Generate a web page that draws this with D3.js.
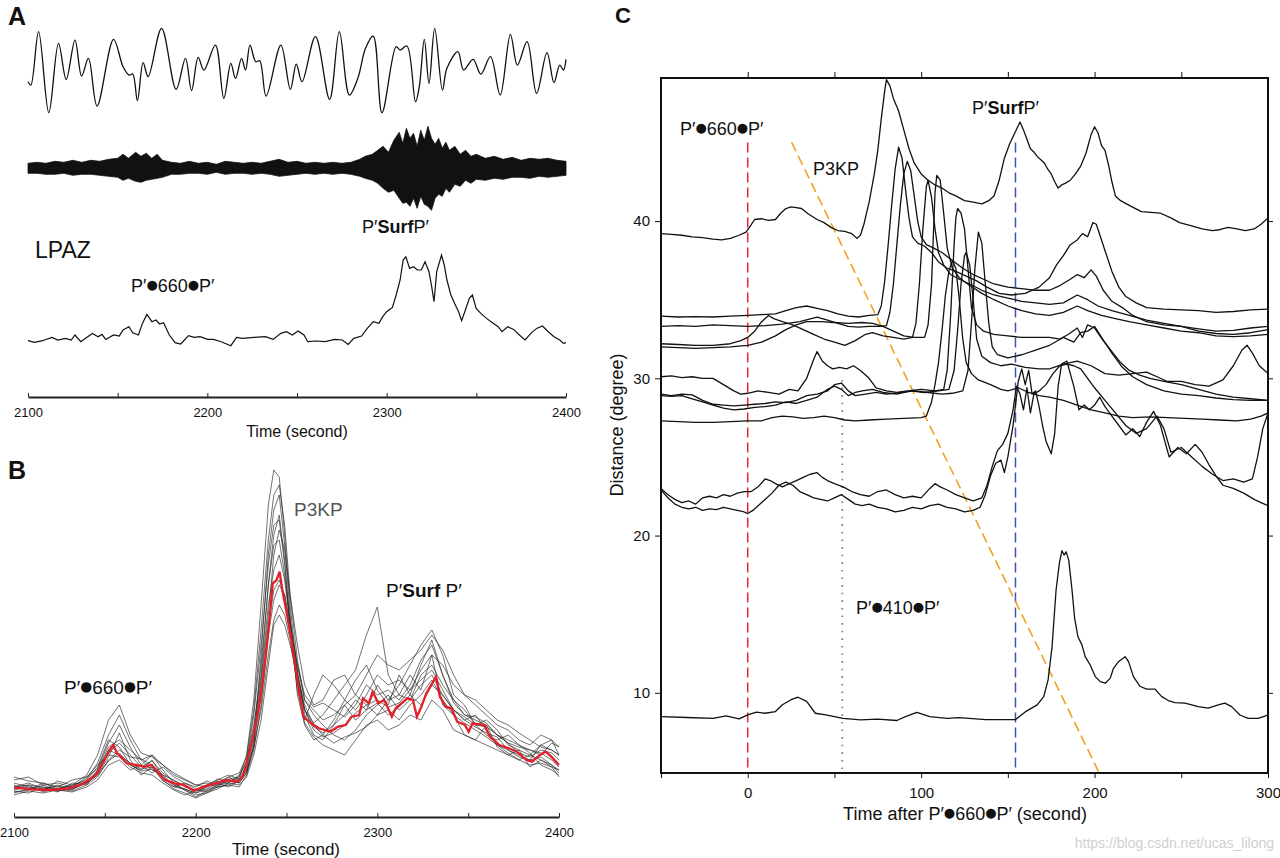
<!DOCTYPE html>
<html><head><meta charset="utf-8">
<script src="https://cdn.jsdelivr.net/npm/d3@7"></script>
<style>body{margin:0;background:#fff} text{font-family:"Liberation Sans",Arial,Helvetica,sans-serif;fill:#111}</style>
</head><body><svg id="c" width="1280" height="858"></svg>
<script>
// ---------------- DATA ----------------
// Panel A: long-period trace (time, amplitude) at extrema
const lpTrace = [[2100,-30],[2101.6,-40],[2105.9,120],[2111.6,-123],[2117,85],[2121.3,-23],[2126.2,95],[2129.9,-13],[2133.7,40],[2138.5,-103],[2147.7,97],[2153,15],[2156.3,-10],[2158.4,-7],[2161,-87],[2164.2,27],[2167,-15],[2174.5,130],[2182.6,-53],[2187.8,40],[2191.2,-57],[2194.9,43],[2198.1,5],[2204.5,80],[2209.2,-80],[2213.1,25],[2215.7,-20],[2219.1,40],[2221.3,5],[2223.8,80],[2227,30],[2229.2,33],[2232.8,-73],[2241,80],[2246.3,-53],[2249.6,23],[2252.8,-30],[2260.3,105],[2268.2,-83],[2273.6,120],[2279.2,-70],[2283.9,-20],[2288.2,70],[2292.5,107],[2297.4,-123],[2305.3,75],[2307.5,65],[2311.3,77],[2316.1,-90],[2318.2,-45],[2321,97],[2323.6,-35],[2326.8,130],[2331.1,-55],[2333.6,10],[2339.7,60],[2342.9,5],[2348.2,37],[2352.5,-7],[2357.9,45],[2363.3,-70],[2369,112],[2372.9,20],[2378.3,90],[2383.6,-65],[2389.4,57],[2393.3,-33],[2396.5,20],[2398.6,5],[2400,37]];
// Panel A: high-frequency trace envelope
const hfTimes = [2100,2105,2110,2115,2120,2125,2130,2135,2140,2145,2150,2153,2156,2160,2163,2166,2169,2172,2175,2180,2185,2190,2195,2200,2205,2210,2215,2220,2225,2230,2235,2240,2245,2250,2255,2260,2265,2270,2275,2280,2285,2288,2292,2295,2298,2301,2304,2307,2309,2311,2313,2315,2317,2319,2321,2323,2325,2327,2329,2331,2333,2335,2338,2341,2344,2347,2350,2355,2360,2365,2370,2375,2380,2385,2390,2395,2400];
const hfUpper = [5,6,5,7,6,8,6,8,7,9,10,14,10,16,12,15,10,14,8,6,5,7,5,6,4,7,6,5,6,5,7,9,6,7,5,6,5,6,5,6,9,12,14,18,22,16,28,36,25,40,30,35,22,38,28,42,30,24,30,20,26,18,22,14,18,12,14,10,12,9,11,8,10,9,10,8,7];
const hfLower = [-5,-5,-6,-6,-5,-7,-6,-6,-7,-8,-9,-12,-10,-13,-14,-12,-11,-10,-9,-6,-6,-5,-5,-6,-4,-6,-5,-5,-6,-5,-6,-8,-7,-6,-5,-6,-5,-6,-5,-6,-8,-10,-12,-15,-20,-24,-22,-30,-35,-34,-38,-30,-40,-28,-36,-38,-42,-30,-26,-28,-20,-24,-16,-18,-12,-15,-11,-12,-10,-11,-9,-9,-10,-8,-9,-8,-7];
// Panel A: LPAZ envelope
const lpazTrace = [[2100,1],[2103.7,-0.7],[2108,1],[2113.4,4.3],[2116.6,1.7],[2120.9,3.3],[2124.1,1.7],[2126.2,6.7],[2129.4,0],[2132.7,4.3],[2135.9,8.3],[2139.1,5],[2141.2,7.3],[2143.4,2.3],[2147.7,6.7],[2150.9,5.7],[2153,11.7],[2156.3,15],[2158.4,9],[2161.6,6.7],[2163.8,18.3],[2166.3,27.3],[2169.1,20],[2171.3,21.7],[2173.4,17.7],[2175.6,19],[2178.8,6.7],[2182,-1],[2185.2,-2.3],[2189.5,6],[2192.7,4.3],[2195.9,5],[2200.2,2.3],[2203.4,2.3],[2207.7,0],[2213.1,-4],[2216.3,4.3],[2219.5,3.3],[2226,4.3],[2232.4,5],[2236.7,2.3],[2241,8.3],[2244.2,10],[2247.4,6.7],[2250.6,10.7],[2253.9,6.7],[2256,0],[2260.3,0.7],[2265.7,0],[2271,2.3],[2275.3,1.7],[2278.5,-2.7],[2281.7,3.3],[2286,5.7],[2289.2,13.3],[2292.5,20],[2295.7,18.3],[2297.8,25],[2300,30],[2303.2,34.3],[2305.3,46.7],[2307.5,61.7],[2309.2,81.7],[2310.7,85],[2312.8,73.3],[2315,75],[2317.1,71.7],[2319.3,71.7],[2321.4,80],[2323.6,70],[2325.1,55],[2326.4,40],[2327.9,70],[2330.6,86.7],[2332.1,76.7],[2333.6,61.7],[2335.8,46.7],[2337.9,38.3],[2340.1,30],[2341.8,21],[2343.9,31.7],[2346.1,43.3],[2347.8,46.7],[2349.9,33.3],[2352.5,28.3],[2355.7,23.3],[2359,19],[2362.2,15],[2364.3,10],[2367.5,15],[2370.8,12.3],[2374,6.7],[2377.2,1.7],[2380.4,8.3],[2383.6,13.3],[2386.9,15.7],[2390.1,10],[2393.3,5],[2396.5,1.7],[2398.6,-1.7],[2400,-1]];
const axisTicksAB = [2100,2200,2300,2400];
const minorTicksAB = [2150,2250,2350];

// Panel B: stacked envelopes on a common time grid, and their mean (red)
const bTimes = [2100,2108,2116,2124,2132,2140,2146,2152,2158,2164,2170,2176,2182,2188,2194,2200,2206,2212,2218,2224,2228,2232,2236,2240,2243,2246,2249,2252,2256,2260,2265,2270,2276,2282,2288,2294,2300,2306,2312,2318,2324,2330,2336,2342,2348,2354,2360,2366,2372,2378,2384,2390,2396,2400];
const bTraces = [
 [8,12,6,9,5,15,28,55,48,30,25,35,18,10,6,2,8,14,12,18,40,95,190,290,325,318,260,190,120,80,60,55,70,90,75,85,110,95,100,120,105,140,90,80,60,55,70,48,40,45,28,35,30,22],
 [3,5,10,4,8,12,20,38,62,35,20,28,14,8,12,6,3,10,18,12,22,50,140,240,285,300,250,180,100,70,55,60,75,95,115,130,105,90,120,100,130,155,120,95,85,70,60,55,60,50,45,40,52,48],
 [12,8,4,14,10,20,40,75,90,60,42,38,30,20,15,10,12,8,16,18,35,70,120,210,260,280,235,170,115,85,72,80,95,110,125,160,188,120,100,95,110,120,100,85,75,80,65,50,45,38,35,50,45,40],
 [0,4,2,5,3,8,15,30,35,25,30,40,25,12,5,-2,4,8,10,8,20,45,90,160,195,210,200,170,130,95,80,70,60,55,65,80,90,100,85,95,120,130,110,95,80,75,70,60,55,50,42,30,25,20],
 [6,10,8,3,12,10,25,48,55,45,35,25,20,15,8,5,10,15,20,16,25,55,110,180,240,265,245,200,150,110,90,95,115,120,100,90,80,95,110,130,150,165,140,100,90,70,75,65,50,45,40,35,28,25],
 [15,18,10,12,8,18,30,40,38,28,22,20,12,5,0,4,6,12,8,14,24,48,85,140,175,190,180,155,110,72,58,50,45,40,55,70,75,65,70,80,75,95,85,65,60,55,50,45,40,35,30,32,28,18],
 [10,5,12,8,15,18,26,52,70,48,30,22,28,18,12,8,14,10,12,20,32,80,150,230,270,275,230,165,105,75,100,120,110,95,85,100,120,110,115,105,125,140,130,110,100,95,85,75,70,62,55,48,45,40],
 [4,2,8,6,4,10,18,35,45,38,36,30,20,10,5,0,2,6,12,10,18,40,75,130,170,180,170,150,120,90,70,60,52,58,62,68,80,85,75,90,100,115,95,80,72,65,58,50,42,35,40,50,55,40],
 [2,6,5,10,6,12,22,42,52,40,28,34,22,14,10,4,8,16,14,12,28,65,130,210,250,255,220,175,130,100,88,92,85,78,90,110,100,105,95,110,135,150,120,92,80,78,72,60,52,48,45,42,35,28],
 [18,14,12,6,10,14,24,45,40,32,26,28,15,6,2,-3,2,8,10,14,22,50,100,170,205,215,200,165,125,85,68,62,70,80,95,85,92,80,88,100,90,110,100,85,75,68,62,58,45,40,35,38,30,25],
 [8,10,3,7,9,16,32,60,80,55,35,40,30,22,16,10,8,12,18,22,38,85,165,255,300,310,270,200,135,95,85,75,80,90,100,120,140,130,125,135,145,160,145,120,100,90,80,70,65,55,50,60,55,48],
 [5,8,6,4,6,12,20,34,42,30,24,26,18,8,6,2,5,10,14,16,30,60,115,190,225,240,215,170,120,85,65,58,62,70,82,90,95,88,92,105,115,125,105,85,78,70,68,60,52,42,38,45,42,35]
];
const bMean = [[2100,7.7],[2109.1,5.7],[2119.7,5],[2130.3,6.7],[2138.7,11.7],[2145.1,20],[2149.3,33.3],[2152.5,45],[2154.6,50],[2156.7,41.7],[2158.8,38.3],[2162,31.7],[2167.3,30],[2171.5,28.3],[2175.8,30],[2178.9,23.3],[2183.2,15],[2188.4,11.7],[2193.7,10],[2199,4.3],[2204.3,8.3],[2210.7,11.7],[2217,15],[2222.3,13.3],[2225.5,16.7],[2227.6,28.3],[2230.8,51.7],[2233.9,78.3],[2237.1,115],[2240.3,168.3],[2242.4,211.7],[2244.5,215],[2246.2,223.3],[2247.7,205],[2249.8,185],[2253,151.7],[2256.2,111.7],[2259.3,78.3],[2263.6,71.7],[2267.8,66.7],[2274.1,63.3],[2278.4,68.3],[2282.6,70],[2285.8,78.3],[2290,80],[2292.1,96.7],[2295.3,91.7],[2297.4,103.3],[2300.6,91.7],[2303.8,95],[2308,78.3],[2310.1,86.7],[2313.3,91.7],[2316.5,96.7],[2319.6,95],[2321.8,78.3],[2323.9,86.7],[2327,101.7],[2330.2,111.7],[2332.3,118.3],[2334.4,98.3],[2337.6,88.3],[2340.8,86.7],[2344,73.3],[2348.2,70],[2350.3,63.3],[2352.4,71.7],[2358.8,70],[2362,58.3],[2367.2,50],[2372.5,46.7],[2376.8,43.3],[2382.1,35],[2385.2,33.3],[2389.5,40],[2392.6,43.3],[2395.8,38.3],[2400,30]];

// Panel C: record section, each trace as [time after P'660P' (s), distance (deg)]
const cTrace39 = [[-50,39.2],[-44,39.15],[-38,39.1],[-32,39.0],[-26,38.95],[-20,38.85],[-15,38.8],[-10,38.9],[-5,39.1],[-1,39.3],[1,39.6],[4,40.1],[8,40.15],[12,40.05],[16,40.1],[19,40.5],[22,40.8],[25,40.9],[28,40.85],[31,40.8],[35,40.45],[40,40.1],[44,39.9],[48,39.6],[52,39.4],[56,39.35],[60,39.2],[63,38.9],[65,39.1],[67,39.8],[70,41.2],[73,43],[75,44.5],[77,46.5],[79,48.3],[80,49.0],[82,48.6],[84,47.8],[87,47.0],[90,45.8],[93,44.6],[96,43.7],[100,43.0],[104,42.6],[108,42.3],[112,42.1],[116,41.8],[120,41.6],[125,41.3],[130,41.2],[135,41.1],[139,41.3],[142,41.6],[145,42.6],[148,44],[151,44.9],[154,45.6],[157,46.3],[159,45.8],[161,45.2],[163,44.6],[165,44.4],[167,44.1],[169,43.9],[171,43.7],[173,43.3],[175,43.0],[177,42.5],[179,42.1],[181,42.3],[183,42.4],[186,42.6],[189,43.0],[192,43.5],[195,44.3],[198,45.5],[200,46.0],[202,45.6],[204,44.8],[206,44.5],[208,43.6],[210,42.5],[212,41.6],[215,41.3],[220,41.0],[227,40.6],[238,40.5],[244,40.2],[249,39.9],[256,39.7],[262,39.5],[268,39.4],[272,39.45],[277,39.6],[282,39.5],[287,39.4],[292,39.5],[296,39.8],[300,40.2]];
const cTrace34a = [[-50,33.95],[-40,33.9],[-30,33.92],[-20,33.9],[-10,33.95],[0,34.0],[8,34.05],[16,34.1],[22,34.3],[28,34.5],[34,34.6],[40,34.45],[46,34.3],[52,34.1],[58,33.95],[64,33.9],[70,34.0],[75,34.05],[77,34.6],[79,36.2],[81,38.5],[83,41.0],[85,43.3],[87,44.7],[89,44.0],[91,42.0],[93,40.2],[95,39.0],[98,38.6],[102,38.4],[106,38.0],[110,37.4],[115,37.0],[120,36.8],[126,36.5],[132,36.2],[138,35.8],[145,35.4],[152,35.3],[160,35.4],[168,35.8],[174,36.4],[178,37.2],[182,37.8],[186,38.5],[190,38.8],[193,39.2],[196,39.0],[199,39.9],[201,39.8],[204,38.8],[207,37.8],[210,36.8],[214,35.8],[218,35.2],[224,34.8],[230,34.5],[240,34.4],[250,34.35],[260,34.3],[270,34.2],[280,34.25],[290,34.35],[300,34.4]];
const cTrace33 = [[-50,33.3],[-40,33.35],[-30,33.3],[-20,33.4],[-10,33.35],[0,33.3],[10,33.35],[20,33.45],[30,33.6],[40,33.9],[46,33.7],[52,33.5],[58,33.3],[64,33.25],[70,33.3],[76,33.3],[80,33.35],[82,34.2],[84,36],[86,38.5],[88,41],[90,43],[92,43.8],[94,43.2],[96,41.6],[98,40],[100,39],[103,38.5],[107,38.3],[112,38.0],[118,37.5],[124,37.0],[130,36.6],[136,36.3],[142,36.0],[150,35.8],[158,35.7],[166,35.6],[174,35.6],[180,35.9],[186,36.3],[190,36.6],[194,36.4],[198,36.9],[201,36.5],[205,35.6],[210,34.9],[216,34.5],[222,34.0],[230,33.6],[240,33.4],[250,33.3],[260,33.15],[270,33.0],[280,33.05],[290,33.2],[300,33.3]];
const cTrace32a = [[-50,32.2],[-40,32.15],[-30,32.1],[-20,32.1],[-10,32.2],[-4,32.4],[0,32.6],[4,33.0],[8,33.6],[12,34.0],[15,33.8],[20,33.6],[26,33.4],[32,33.1],[38,32.8],[44,32.5],[50,32.3],[56,32.1],[62,32.4],[68,32.8],[72,32.9],[78,32.7],[84,32.6],[90,32.5],[95,32.6],[97,33.5],[99,36],[101,39.5],[103,42.2],[104,42.6],[106,41.5],[108,39.5],[110,38],[113,37.2],[117,36.6],[122,36.3],[128,36.0],[135,35.6],[142,35.3],[150,35.1],[158,34.9],[166,34.8],[174,34.7],[182,34.8],[190,35.3],[196,35.0],[202,34.6],[210,34.3],[220,34.0],[230,33.7],[240,33.5],[250,33.3],[260,33.0],[270,32.85],[280,32.8],[290,32.9],[300,33.1]];
const cTrace32b = [[-50,32.0],[-40,31.95],[-30,31.9],[-20,31.95],[-10,32.0],[0,32.1],[8,32.3],[16,32.7],[22,33.1],[28,33.4],[34,33.6],[42,33.6],[50,33.55],[58,33.5],[66,33.55],[72,33.5],[78,33.3],[84,33.0],[90,32.7],[96,32.6],[102,32.6],[104,33.4],[106,36],[107,39],[108,41.8],[109,42.9],[111,42.6],[113,40.5],[115,38.3],[118,37.0],[122,36.4],[128,35.9],[135,35.4],[142,35.0],[150,34.6],[158,34.3],[166,34.1],[174,34.0],[182,34.2],[190,34.6],[196,34.3],[204,34.0],[212,33.8],[220,33.6],[230,33.4],[240,33.2],[250,33.0],[260,32.9],[270,32.7],[280,32.65],[290,32.7],[300,32.8]];
const cTrace30 = [[-50,30.1],[-44,30.15],[-38,30.05],[-32,30.1],[-26,30.0],[-20,30.0],[-14,29.6],[-8,29.2],[-4,29.0],[0,29.05],[6,29.2],[12,29.1],[18,29.0],[24,29.3],[29,29.2],[34,30.0],[38,31.2],[40,31.7],[43,31.1],[46,30.8],[49,30.6],[53,30.7],[57,30.6],[61,30.8],[65,30.5],[70,30.0],[74,29.4],[80,29.2],[86,29.1],[92,29.2],[100,29.3],[108,29.2],[113,29.3],[115,30.5],[117,34],[119,38.5],[120,40.2],[121,40.8],[123,40.5],[125,39.5],[127,37],[129,34.5],[132,33.4],[136,33.0],[142,32.8],[150,32.7],[158,32.6],[166,32.6],[174,32.6],[180,32.5],[185,32.8],[190,33.2],[193,32.6],[196,33.4],[200,33.2],[205,32.4],[210,31.7],[215,31.0],[220,30.5],[226,30.2],[232,30.0],[240,29.8],[250,29.6],[260,29.3],[270,29.0],[280,28.8],[290,28.7],[300,28.6]];
const cTrace29a = [[-50,29.0],[-44,28.9],[-38,29.0],[-32,28.95],[-26,28.6],[-20,28.35],[-14,28.3],[-8,28.25],[-2,28.3],[4,28.35],[10,28.4],[16,28.5],[22,28.45],[28,28.6],[34,28.9],[40,29.0],[46,29.2],[50,29.6],[54,29.7],[58,29.2],[62,28.9],[68,29.0],[74,29.1],[80,29.0],[88,29.1],[96,29.2],[104,29.1],[112,29.0],[118,29.05],[124,29.2],[127,30.5],[129,33.5],[131,37],[133,39.3],[135,38.6],[137,36],[139,33.5],[141,32.0],[144,31.5],[150,31.3],[158,31.5],[166,31.8],[174,32.1],[182,32.6],[188,32.3],[192,32.9],[196,33.0],[200,33.3],[204,32.6],[210,31.6],[216,30.7],[222,30.1],[230,29.6],[240,29.2],[250,29.0],[260,28.9],[270,28.75],[280,28.65],[290,28.6],[300,28.6]];
const cTrace29b = [[-50,28.9],[-44,28.85],[-38,28.9],[-32,28.7],[-26,28.5],[-20,28.3],[-14,28.1],[-8,28.0],[-2,28.05],[4,28.15],[10,28.2],[16,28.3],[22,28.5],[28,28.4],[34,28.6],[40,28.8],[46,29.3],[50,29.5],[54,29.3],[58,28.9],[62,29.1],[66,29.2],[72,29.3],[78,29.1],[86,29.0],[94,29.2],[102,29.1],[110,29.2],[116,29.3],[119,30.5],[121,33],[123,36],[125,37.8],[126,38.0],[128,37.2],[130,35],[132,32.5],[135,31.4],[140,31.0],[146,30.8],[152,30.9],[160,30.7],[168,30.6],[174,30.6],[182,30.9],[190,31.1],[198,30.8],[206,30.3],[214,30.2],[222,30.3],[230,30.4],[236,30.1],[242,29.8],[250,29.8],[258,29.6],[266,29.5],[274,29.9],[280,30.8],[285,31.8],[288,32.1],[291,31.6],[295,30.8],[300,30.3]];
const cTrace27 = [[-50,27.3],[-40,27.25],[-30,27.2],[-20,27.2],[-10,27.25],[0,27.3],[8,27.3],[14,27.5],[20,27.6],[26,27.55],[32,27.45],[38,27.5],[44,27.6],[50,27.5],[56,27.35],[62,27.3],[70,27.35],[80,27.4],[90,27.45],[100,27.5],[103,27.6],[106,28.5],[108,29.6],[110,31],[112,33],[114,35.3],[116,36.8],[118,37.5],[120,37.0],[122,35],[124,32.5],[126,31],[129,30.3],[133,29.9],[140,29.6],[146,29.3],[150,29.2],[156,29.4],[162,29.1],[168,28.9],[174,28.8],[182,28.6],[190,28.3],[198,28.0],[206,27.8],[214,27.6],[222,27.5],[232,27.55],[242,27.5],[252,27.45],[262,27.4],[272,27.35],[282,27.3],[290,27.4],[296,27.6],[300,27.8]];
const cTrace23a = [[-50,23.0],[-46,22.6],[-42,22.3],[-38,22.1],[-34,22.2],[-30,22.0],[-26,22.4],[-22,22.5],[-18,22.4],[-14,22.6],[-10,22.5],[-6,22.7],[-2,22.8],[2,22.8],[6,23.1],[10,23.6],[13,23.5],[16,23.3],[20,23.1],[24,23.3],[28,23.5],[32,23.7],[36,23.9],[40,24.0],[43,23.7],[46,23.5],[50,23.3],[55,23.1],[60,22.8],[65,22.6],[70,22.5],[75,22.8],[80,22.9],[85,22.6],[90,22.4],[95,22.5],[100,22.4],[105,23.0],[108,23.3],[111,23.1],[115,22.9],[120,22.6],[125,22.4],[130,22.2],[135,22.4],[138,23.2],[141,24.4],[144,25.4],[147,25.8],[150,26.5],[153,28.0],[155,29.5],[157,29.0],[159,28.0],[161,29.4],[163,27.8],[165,29.0],[168,29.2],[172,29.6],[176,30.3],[180,30.8],[184,30.9],[188,30.8],[192,30.6],[196,30.0],[200,29.4],[206,28.6],[212,27.8],[218,27.0],[224,26.5],[230,26.8],[236,27.6],[240,26.8],[244,25.3],[250,25.6],[256,25.0],[262,24.4],[268,23.9],[274,23.5],[280,23.6],[286,23.4],[291,23.6],[294,25],[297,26.8],[300,27.8]];
const cTrace23b = [[-50,22.9],[-46,22.4],[-42,22.0],[-38,21.8],[-34,21.7],[-30,21.8],[-26,21.6],[-22,21.7],[-18,21.65],[-14,21.8],[-10,21.7],[-6,21.6],[-2,21.5],[0,21.4],[3,21.6],[6,21.9],[10,22.3],[14,22.7],[18,23.2],[22,23.4],[26,23.2],[30,22.8],[34,22.6],[38,22.4],[42,22.3],[46,22.2],[50,22.4],[54,22.6],[58,22.3],[62,22.0],[66,21.9],[70,22.0],[75,21.8],[80,21.7],[85,21.5],[90,21.6],[95,21.8],[100,21.7],[105,21.9],[110,22.0],[115,21.8],[120,21.7],[125,21.5],[130,21.6],[134,21.8],[137,22.6],[140,23.8],[143,24.6],[146,24.8],[148,24.0],[150,25.0],[153,27.0],[156,29.8],[158,30.6],[160,29.6],[162,30.5],[164,29.0],[166,29.2],[168,28.2],[170,27.0],[172,26.0],[175,25.2],[177,26.5],[179,29.5],[181,30.9],[184,31.1],[188,29.5],[191,28.0],[194,28.3],[197,28.0],[200,28.3],[203,28.8],[206,28.2],[210,27.6],[214,27.0],[218,26.4],[222,26.8],[226,26.3],[230,27.2],[234,27.9],[238,27.0],[243,25.0],[248,25.6],[253,25.2],[258,25.8],[262,25.3],[266,24.5],[270,23.8],[274,23.2],[280,23.0],[286,22.7],[292,22.3],[296,22.1],[300,21.9]];
const cTrace8 = [[-50,8.49],[-35,8.43],[-20,8.38],[-12.5,8.53],[-5,8.34],[0,8.6],[5,8.77],[10,8.7],[16,8.81],[20,9.24],[25,9.56],[29,9.72],[34,9.45],[39,8.7],[45,8.6],[55,8.38],[65,8.28],[75,8.32],[86,8.24],[91,8.49],[97.5,8.75],[105,8.49],[115,8.38],[121.8,8.42],[137.2,8.3],[154.4,8.3],[160.2,8.8],[166.9,9.23],[170.7,9.76],[173.2,10.82],[175.5,12.94],[177.8,16.54],[179.7,18.24],[181.2,19.04],[182.4,18.76],[183.6,18.97],[185.1,18.44],[187,16.54],[188.5,14.74],[190.4,13.57],[192.7,13.05],[194.6,12.3],[197.5,11.77],[200.4,11.03],[203.3,10.71],[206.1,10.61],[209,10.92],[210.9,11.56],[213.8,11.98],[217.6,12.3],[219.6,11.98],[222.4,11.03],[226.3,10.4],[230.1,10.23],[234.9,10.23],[238.7,9.76],[242.5,9.51],[246.4,9.38],[252.1,9.34],[256,9.23],[259.8,9.12],[265.5,9.02],[271.3,9.23],[275.1,9.34],[279,9.12],[283.8,8.59],[288.5,8.38],[294.3,8.38],[298.2,8.52],[300,8.6]];
const cTraces = [cTrace39,cTrace34a,cTrace33,cTrace32a,cTrace32b,cTrace30,cTrace29a,cTrace29b,cTrace27,cTrace23a,cTrace23b,cTrace8];
// phase reference times (s) and the distance where each marker line begins (deg)
const mark660 = [0, 45.0];
const mark410 = [54.5, 29.9];
const markSurf = [154.4, 45.0];
const p3kpMoveout = [[25.3,45.0],[202.7,4.9]];
const cXTicks = [-50,0,50,100,150,200,250,300];
const cXLabels = [0,100,200,300];
const cYTicks = [10,20,30,40];

// ---------------- DRAW ----------------
const svg = d3.select("#c");
svg.append("rect").attr("width",1280).attr("height",858).attr("fill","#fff");

function label(x,y,parts,size,opts={}){
  const t = svg.append("text").attr("x",x).attr("y",y).style("font-size",size+"px");
  if(opts.anchor) t.attr("text-anchor",opts.anchor);
  if(opts.fill) t.style("fill",opts.fill);
  const lift = size*0.14;
  let raised = false;
  parts.forEach(p=>{
    const s=t.append("tspan").text(p[0]);
    if(p[1]==="b") s.style("font-weight","bold");
    if(p[1]==="dot"){
      s.style("font-family",'"DejaVu Sans",sans-serif').style("font-size",(size*0.72)+"px");
      if(!raised){ s.attr("dy",-lift); raised=true; }
    } else if(raised){ s.attr("dy",lift); raised=false; }
  });
  return t;
}
const P660 = [["P′"],["●","dot"],["660"],["●","dot"],["P′"]];
const P410 = [["P′"],["●","dot"],["410"],["●","dot"],["P′"]];

function panelLetter(x,y,s,size){
  svg.append("text").attr("x",x).attr("y",y).text(s)
    .style("font-family",'"Liberation Sans Narrow","Liberation Sans",Arial,sans-serif')
    .style("font-weight","bold").style("font-size",size+"px");
}
panelLetter(8,25,"A",25); panelLetter(8,479,"B",25); panelLetter(615,23,"C",22);

// ----- Panel A -----
const xA = d3.scaleLinear().domain([2100,2400]).range([28,566]);
const yLP = d3.scaleLinear().domain([-150,150]).range([121.7,21.7]);
const yHF = d3.scaleLinear().domain([-50,50]).range([218.3,118.3]);
const yLPAZ = d3.scaleLinear().domain([0,100]).range([341.7,241.7]);

svg.append("path").datum(lpTrace)
  .attr("d", d3.line().x(d=>xA(d[0])).y(d=>yLP(d[1])).curve(d3.curveCatmullRom.alpha(0.5)))
  .attr("fill","none").attr("stroke","#111").attr("stroke-width",1.3);

const hf = hfTimes.map((t,i)=>({t,u:hfUpper[i],l:hfLower[i]}));
svg.append("path").datum(hf)
  .attr("d", d3.area().x(d=>xA(d.t)).y0(d=>yHF(d.l)).y1(d=>yHF(d.u)))
  .attr("fill","#111").attr("stroke","#111").attr("stroke-width",0.8);

svg.append("path").datum(lpazTrace)
  .attr("d", d3.line().x(d=>xA(d[0])).y(d=>yLPAZ(d[1])))
  .attr("fill","none").attr("stroke","#111").attr("stroke-width",1.2);

function abAxis(x, y0){
  const g = svg.append("g").attr("transform",`translate(0,${y0})`);
  g.call(d3.axisBottom(x).tickValues(axisTicksAB).tickSize(-4).tickSizeOuter(0).tickPadding(11).tickFormat(d3.format("d")));
  g.append("g").call(d3.axisBottom(x).tickValues(minorTicksAB).tickSize(-4).tickSizeOuter(0).tickFormat(""))
    .select(".domain").remove();
  g.selectAll(".domain").attr("stroke","#222").attr("stroke-width",1.8);
  g.selectAll(".tick line").attr("stroke","#222").attr("stroke-width",1);
  g.selectAll(".tick text").style("font-size","13px").style("font-family",'"Liberation Sans",Arial,sans-serif').attr("fill","#111");
  return g;
}
abAxis(xA,397);
label(297,437,[["Time (second)"]],16,{anchor:"middle"});
label(35,258,[["LPAZ"]],23);
label(131,292,P660,18);
label(362,233,[["P′"],["Surf","b"],["P′"]],18);

// ----- Panel B -----
const xB = d3.scaleLinear().domain([2100,2400]).range([14,559]);
const yB = d3.scaleLinear().domain([0,330]).range([795,465]);
const lineB = d3.line().x(d=>xB(d[0])).y(d=>yB(d[1]));
bTraces.forEach(tr=>{
  svg.append("path").datum(bTimes.map((t,i)=>[t,tr[i]]))
    .attr("d",lineB).attr("fill","none").attr("stroke","#222").attr("stroke-width",0.75).attr("stroke-opacity",0.85);
});
svg.append("path").datum(bMean).attr("d",lineB).attr("fill","none").attr("stroke","#e3202a").attr("stroke-width",2.3);
abAxis(xB,817);
label(286,855,[["Time (second)"]],17,{anchor:"middle"});
label(294,516,[["P3KP"]],19,{fill:"#555"});
label(386,597,[["P′"],["Surf","b"],[" P′"]],19);
label(64,694,P660,19);

// ----- Panel C -----
const xC = d3.scaleLinear().domain([-50,300]).range([661,1268]);
const yC = d3.scaleLinear().domain([4.9,49.1]).range([773,78]);
svg.append("defs").append("clipPath").attr("id","cc").append("rect")
  .attr("x",661).attr("y",77).attr("width",607).attr("height",696);
const gC = svg.append("g").attr("clip-path","url(#cc)");
const lineC = d3.line().x(d=>xC(d[0])).y(d=>yC(d[1]));
function vline(m,color,dash,w){
  gC.append("line").attr("x1",xC(m[0])).attr("x2",xC(m[0])).attr("y1",yC(m[1])).attr("y2",yC(4.9))
    .attr("stroke",color).attr("stroke-width",w).attr("stroke-dasharray",dash);
}
vline(mark660,"#e8262d","10,5",1.5);
vline(markSurf,"#3f55ad","10,5",1.5);
vline(mark410,"#5f9e3c","1.6,6",1.8);
gC.append("path").datum(p3kpMoveout).attr("d",lineC).attr("fill","none")
  .attr("stroke","#f0a323").attr("stroke-width",1.6).attr("stroke-dasharray","10,5");
cTraces.forEach(tr=>{
  gC.append("path").datum(tr).attr("d",lineC).attr("fill","none")
    .attr("stroke","#111").attr("stroke-width",1.3).attr("stroke-linejoin","round");
});
svg.append("rect").attr("x",661).attr("y",78).attr("width",607).attr("height",695)
  .attr("fill","none").attr("stroke","#111").attr("stroke-width",2);
function styleAx(g){
  g.select(".domain").remove();
  g.selectAll(".tick line").attr("stroke","#111").attr("stroke-width",1);
  g.selectAll(".tick text").style("font-size","15px").style("font-family",'"Liberation Sans",Arial,sans-serif').attr("fill","#111");
}
styleAx(svg.append("g").attr("transform","translate(0,773)")
  .call(d3.axisBottom(xC).tickValues(cXTicks).tickSize(5).tickPadding(9)
  .tickFormat(d=>cXLabels.includes(d)?String(d):"")));
styleAx(svg.append("g").attr("transform","translate(0,78)")
  .call(d3.axisTop(xC).tickValues(cXTicks.slice(1,-1)).tickSize(6).tickFormat("")));
styleAx(svg.append("g").attr("transform","translate(661,0)")
  .call(d3.axisLeft(yC).tickValues(cYTicks).tickSize(6).tickPadding(5).tickFormat(d3.format("d"))));
styleAx(svg.append("g").attr("transform","translate(1268,0)")
  .call(d3.axisRight(yC).tickValues(cYTicks).tickSize(5).tickFormat("")));

label(965,820,[["Time after P′"],["●","dot"],["660"],["●","dot"],["P′ (second)"]],18,{anchor:"middle"});
svg.append("text").attr("transform","translate(623,425) rotate(-90)").attr("text-anchor","middle")
  .style("font-size","18px").text("Distance (degree)");
label(680,135,P660,18);
label(813,175,[["P3KP"]],18);
label(972,114,[["P′"],["Surf","b"],["P′"]],18);
label(856,614,P410,18);

svg.append("text").attr("x",1274).attr("y",848).attr("text-anchor","end")
  .style("font-size","14px").style("fill","#cfcfcf").text("https://blog.csdn.net/ucas_lilong");
</script></body></html>
